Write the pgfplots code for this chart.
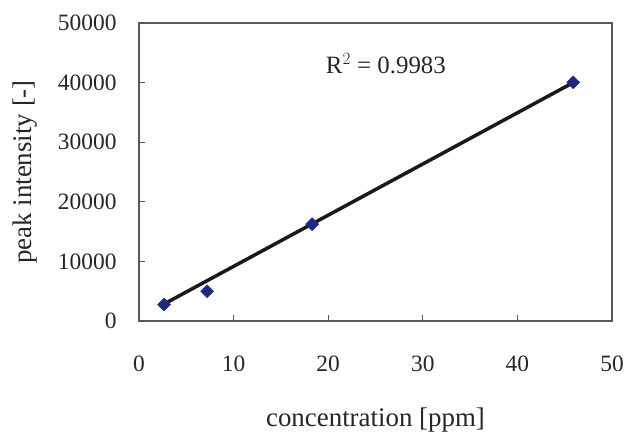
\documentclass[border=0pt]{standalone}
\usepackage{fontspec}
\setmainfont{Liberation Serif}
\usepackage{pgfplots}
\pgfplotsset{compat=1.18}
\definecolor{navy}{HTML}{1C2A80}
\begin{document}
\begin{tikzpicture}
\begin{axis}[
  name=ax,
  scale only axis,
  width=473bp, height=298bp,
  xmin=0, xmax=50, ymin=0, ymax=50000,
  xtick={0,10,20,30,40,50},
  ytick={0,10000,20000,30000,40000,50000},
  scaled ticks=false,
  tick align=inside,
  xtick pos=bottom, ytick pos=left,
  major tick length=6bp,
  /pgf/number format/1000 sep={},
  /pgf/number format/assume math mode=true,
  ticklabel style={font=\fontsize{23.5}{28}\selectfont, text=black!85},
  xticklabel style={yshift=-31bp},
  yticklabel style={xshift=-19bp},
  label style={font=\fontsize{27}{32}\selectfont, text=black!85},
  xlabel={concentration [ppm]},
  ylabel={peak intensity [-]},
  xlabel style={at={(axis description cs:0.5,0)}, anchor=center, yshift=-99bp},
  ylabel style={at={(axis description cs:0,0.5)}, anchor=center, yshift=114bp},
  axis line style={line width=1.6pt, black!65},
  every tick/.style={line width=1pt, black!65},
  clip=false,
]
\addplot[black!90, line width=3.5bp] coordinates {(2.65,2850) (45.9,40000)};
\addplot[only marks, mark=square*, mark size=4.6bp, color=navy, mark options={rotate=45, fill=navy, draw=navy}]
  coordinates {(2.65,2750) (7.2,5000) (18.3,16250) (45.9,40050)};
\node[font=\fontsize{25}{30}\selectfont, text=black!85, anchor=base] at (axis cs:26.1,41600) {R$^{2}$ = 0.9983};
\end{axis}
\pgfresetboundingbox
\path ([shift={(-139bp,-113bp)}]ax.south west) rectangle ([shift={(16bp,23bp)}]ax.north east);
\end{tikzpicture}
\end{document}
